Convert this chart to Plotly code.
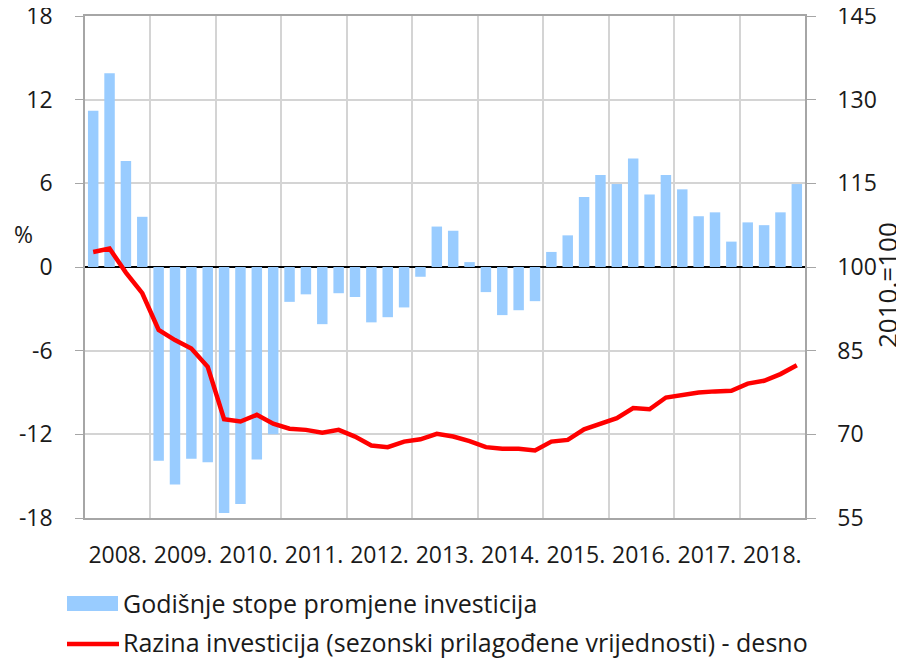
import plotly.graph_objects as go

years = list(range(2008, 2019))
quarters = [f"{y}Q{q}" for y in years for q in range(1, 5)]
year_labels = [f"{y}." for y in years]

growth = [11.2, 13.9, 7.6, 3.6,
          -13.9, -15.6, -13.75, -14.0,
          -17.65, -17.0, -13.8, -12.0,
          -2.5, -1.96, -4.1, -1.88,
          -2.15, -3.97, -3.6, -2.9,
          -0.7, 2.9, 2.6, 0.35,
          -1.8, -3.45, -3.1, -2.45,
          1.08, 2.27, 5.02, 6.6,
          5.95, 7.78, 5.2, 6.6,
          5.57, 3.64, 3.92, 1.82,
          3.2, 3.0, 3.92, 5.95]

level = [102.7, 103.3, 99.0, 95.3,
         88.7, 86.9, 85.4, 82.1,
         72.7, 72.3, 73.5, 71.9,
         71.0, 70.8, 70.3, 70.8,
         69.6, 68.0, 67.7, 68.7,
         69.1, 70.1, 69.6, 68.8,
         67.7, 67.4, 67.4, 67.1,
         68.7, 69.0, 70.9, 71.9,
         72.9, 74.7, 74.5, 76.6,
         77.1, 77.5, 77.7, 77.8,
         79.1, 79.6, 80.8, 82.4]

left_ticks = [-18, -12, -6, 0, 6, 12, 18]
left_ticktext = ["-18", "-12", "-6", "0", "6", "12", "18"]
right_ticks = [55, 70, 85, 100, 115, 130, 145]

name_bar = "Godišnje stope promjene investicija"
name_line = "Razina investicija (sezonski prilagođene vrijednosti) - desno"

x = list(range(len(quarters)))
n = len(quarters)
year_centers = [4 * i + 1.5 for i in range(len(years))]
year_bounds = [4 * i - 0.5 for i in range(len(years) + 1)]

# the page body adds an 8px margin; size the figure so that it fills the 904x659 window
OFF = 8
W, H = 904 - OFF, 659 - OFF
# plot area in window pixels (reference)
L, R, T, B = 85, 805, 16, 518


def px_x(p):
    return (p - L) / (R - L)


def px_y(p):
    return (B - p) / (B - T)


GRID = "#d4d4d4"
AXIS = "#a6a6a6"
TXT = "#1a1a1a"
FONT = "Open Sans"
FS = 23

fig = go.Figure()
fig.add_trace(go.Bar(x=x, y=growth, name=name_bar, marker=dict(color="#99CCFF", line=dict(width=0)),
                     width=0.64, yaxis="y", xaxis="x"))
fig.add_trace(go.Scatter(x=x, y=level, name=name_line, mode="lines",
                         line=dict(color="#FF0000", width=4.5), yaxis="y2", xaxis="x"))

fig.update_layout(
    width=W, height=H,
    margin=dict(l=L - OFF, r=W - (R - OFF), t=T - OFF, b=H - (B - OFF), autoexpand=False),
    paper_bgcolor="white", plot_bgcolor="white",
    showlegend=False,
    font=dict(family=FONT, size=FS, color=TXT),
    xaxis=dict(range=[-0.5, n - 0.5], tickmode="array", tickvals=year_centers, ticktext=year_labels,
               showgrid=False, ticks="", showline=True, linecolor=AXIS, linewidth=1.5, mirror=True,
               zeroline=False, ticklabelstandoff=16, automargin=False, ticklabeloverflow="allow",
               minor=dict(tickmode="array", tickvals=year_bounds, showgrid=True, gridcolor=GRID,
                          gridwidth=1.5, ticks="")),
    xaxis2=dict(overlaying="x", anchor="free", position=0.5, range=[-0.5, n - 0.5],
                tickmode="array", tickvals=year_bounds, ticks="outside", ticklen=6, tickwidth=1.5,
                tickcolor="black", showticklabels=False, showgrid=False, showline=False, zeroline=False,
                automargin=False),
    yaxis=dict(range=[-18, 18], tickmode="array", tickvals=left_ticks, ticktext=left_ticktext,
               showgrid=True, gridcolor=GRID,
               gridwidth=1.5, zeroline=True, zerolinecolor="black", zerolinewidth=1.5,
               showline=True, linecolor=AXIS, linewidth=1.5, ticks="outside", ticklen=8,
               tickcolor=AXIS, mirror=True, ticklabelstandoff=18, automargin=False,
               ticklabeloverflow="allow"),
    yaxis2=dict(range=[55, 145], tickmode="array", tickvals=right_ticks, overlaying="y", side="right",
                showgrid=False, zeroline=False, showline=True, linecolor=AXIS, linewidth=1.5,
                ticks="outside", ticklen=9, tickcolor=AXIS, ticklabelstandoff=17, automargin=False,
                ticklabeloverflow="allow"),
)

# axis titles
fig.add_annotation(text="%", xref="paper", yref="paper", x=px_x(23), y=px_y(234),
                   showarrow=False, xanchor="center", yanchor="middle", font=dict(size=FS))
fig.add_annotation(text="2010.=100", xref="paper", yref="paper", x=px_x(887), y=px_y(285),
                   showarrow=False, xanchor="center", yanchor="middle", textangle=-90,
                   font=dict(size=26))

# legend (drawn manually)
fig.add_shape(type="rect", xref="paper", yref="paper", x0=px_x(67), x1=px_x(118), y0=px_y(596), y1=px_y(611),
              fillcolor="#99CCFF", line=dict(width=0))
fig.add_annotation(text=name_bar, xref="paper", yref="paper", x=px_x(121), y=px_y(603),
                   showarrow=False, xanchor="left", yanchor="middle", font=dict(size=25))
fig.add_shape(type="line", xref="paper", yref="paper", x0=px_x(67), x1=px_x(119), y0=px_y(644), y1=px_y(644),
              line=dict(color="#FF0000", width=4.5))
fig.add_annotation(text=name_line, xref="paper", yref="paper", x=px_x(121), y=px_y(642),
                   showarrow=False, xanchor="left", yanchor="middle", font=dict(size=25))

fig.write_html("out.html")
